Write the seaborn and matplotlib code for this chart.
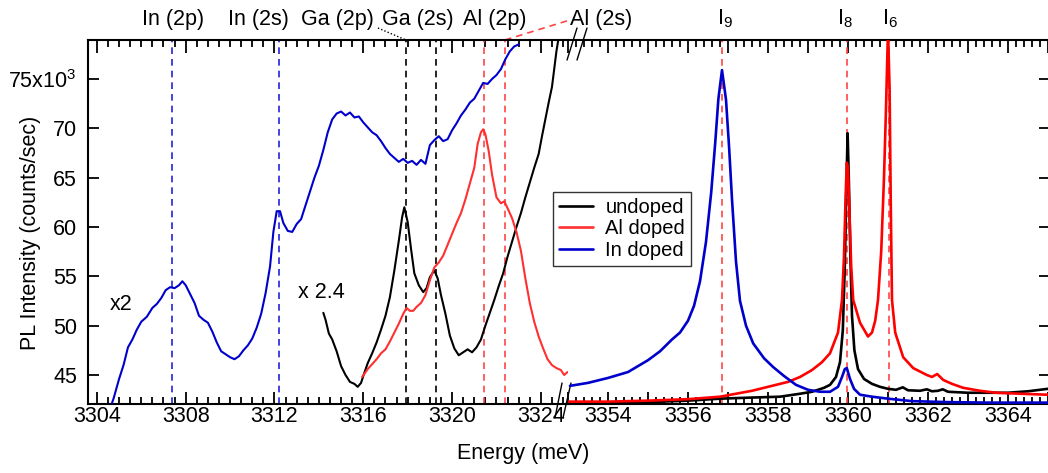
import matplotlib
matplotlib.use("Agg")
import matplotlib.pyplot as plt
import matplotlib.transforms as mtransforms
from matplotlib.ticker import MultipleLocator, FixedLocator, FuncFormatter
from matplotlib.lines import Line2D
import pandas as pd
import seaborn as sns

# ---------------- data (intensity in units of 10^3 counts/sec) ----------------
# Low-energy window (3303.6 - 3325.2 meV), scaled spectra
in_left_E = [3304.5, 3304.75, 3305.0, 3305.2, 3305.4, 3305.6, 3305.8, 3306.0, 3306.25, 3306.5,
             3306.7, 3306.9, 3307.1, 3307.3, 3307.5, 3307.7, 3307.85, 3308.0, 3308.2, 3308.4,
             3308.6, 3308.8, 3309.0, 3309.2, 3309.4, 3309.6, 3309.8, 3310.0, 3310.2, 3310.4,
             3310.6, 3310.8, 3311.0, 3311.2, 3311.4, 3311.6, 3311.8, 3311.95, 3312.1, 3312.25,
             3312.4, 3312.6, 3312.8, 3313.0, 3313.2, 3313.4, 3313.6, 3313.8, 3314.0, 3314.2,
             3314.4, 3314.6, 3314.8, 3315.0, 3315.2, 3315.4, 3315.6, 3315.8, 3316.0, 3316.2,
             3316.4, 3316.6, 3316.8, 3317.0, 3317.2, 3317.4, 3317.6, 3317.8, 3318.0, 3318.2,
             3318.4, 3318.6, 3318.8, 3319.0, 3319.2, 3319.4, 3319.6, 3319.8, 3320.0, 3320.2,
             3320.4, 3320.6, 3320.8, 3321.0, 3321.2, 3321.4, 3321.6, 3321.8, 3322.0, 3322.2,
             3322.4, 3322.6, 3322.8, 3323.0]
in_left_I = [41.0, 42.6, 44.6, 46.0, 47.8, 48.6, 49.6, 50.4, 50.9, 51.8,
             52.2, 52.8, 53.6, 53.9, 53.8, 54.1, 54.5, 54.1, 53.2, 52.3,
             51.0, 50.6, 50.3, 49.4, 48.3, 47.4, 47.1, 46.8, 46.6, 46.9,
             47.5, 48.0, 48.7, 49.8, 51.2, 53.3, 56.0, 59.5, 61.6, 61.6,
             60.4, 59.6, 59.5, 60.3, 60.8, 62.2, 63.6, 65.0, 66.2, 67.8,
             69.6, 70.9, 71.5, 71.7, 71.3, 71.6, 71.1, 71.2, 70.6, 70.1,
             69.6, 69.3, 68.7, 68.0, 67.4, 67.0, 66.6, 66.9, 66.5, 66.7,
             66.3, 66.8, 66.4, 68.3, 68.8, 69.2, 68.7, 68.9, 69.8, 70.5,
             71.3, 71.9, 72.6, 73.0, 73.8, 74.6, 74.5, 75.0, 75.4, 76.0,
             77.0, 77.8, 78.3, 78.5]

und_left_E = [3314.2, 3314.3, 3314.45, 3314.6, 3314.8, 3315.0, 3315.2, 3315.4, 3315.6, 3315.75,
              3315.9, 3316.0, 3316.2, 3316.4, 3316.6, 3316.8, 3317.0, 3317.2, 3317.4, 3317.6,
              3317.75, 3317.85, 3318.0, 3318.15, 3318.3, 3318.5, 3318.7, 3318.85, 3319.0, 3319.2,
              3319.35, 3319.5, 3319.7, 3319.9, 3320.1, 3320.3, 3320.5, 3320.7, 3320.9, 3321.1,
              3321.3, 3321.5, 3321.7, 3321.9, 3322.1, 3322.3, 3322.5, 3322.7, 3322.9, 3323.1,
              3323.3, 3323.5, 3323.7, 3323.9, 3324.05, 3324.2, 3324.35, 3324.5, 3324.6, 3324.7,
              3324.8, 3324.9]
und_left_I = [51.3, 50.6, 49.2, 48.6, 47.4, 45.9, 45.0, 44.3, 44.1, 43.8,
              44.2, 44.9, 46.2, 47.2, 48.3, 49.6, 51.0, 52.9, 55.6, 58.6,
              61.0, 62.0, 60.5, 57.8, 55.3, 54.1, 53.4, 53.8, 54.9, 55.6,
              54.8, 53.1, 51.2, 49.0, 47.7, 47.0, 47.3, 47.6, 47.3, 47.8,
              48.6, 50.0, 51.3, 52.6, 54.0, 55.3, 57.0, 58.5, 60.0, 61.4,
              63.0, 64.5, 66.0, 67.4, 69.2, 70.9, 72.6, 74.2, 76.0, 77.8,
              79.2, 80.5]

al_left_E = [3315.95, 3316.2, 3316.4, 3316.6, 3316.8, 3317.0, 3317.2, 3317.4, 3317.6, 3317.8,
             3317.95, 3318.1, 3318.25, 3318.4, 3318.6, 3318.8, 3319.0, 3319.2, 3319.4, 3319.6,
             3319.8, 3320.0, 3320.2, 3320.4, 3320.6, 3320.8, 3321.0, 3321.15, 3321.3, 3321.4,
             3321.5, 3321.65, 3321.8, 3322.0, 3322.2, 3322.35, 3322.5, 3322.7, 3322.9, 3323.1,
             3323.3, 3323.5, 3323.7, 3323.9, 3324.1, 3324.3, 3324.5, 3324.7, 3324.9, 3325.05,
             3325.2]
al_left_I = [44.8, 45.6, 46.1, 46.6, 47.2, 47.6, 48.4, 49.3, 50.2, 51.2,
             51.8, 51.5, 51.5, 51.9, 52.3, 53.1, 54.6, 55.9, 56.4, 57.1,
             58.2, 59.3, 60.4, 61.4, 62.8, 64.4, 66.0, 68.4, 69.6, 69.9,
             69.4, 67.7, 65.3, 63.0, 62.4, 62.6, 61.9, 60.9, 59.5, 57.6,
             54.8, 52.3, 50.4, 48.9, 47.7, 46.6, 46.0, 45.7, 45.5, 45.0,
             45.3]

# High-energy window (3353 - 3365 meV), bound-exciton lines
in_right_E = [3353.05, 3353.5, 3354.0, 3354.5, 3355.0, 3355.3, 3355.6, 3355.8, 3356.0, 3356.15,
              3356.3, 3356.45, 3356.58, 3356.68, 3356.76, 3356.85, 3356.95, 3357.03, 3357.1, 3357.2,
              3357.3, 3357.45, 3357.63, 3357.9, 3358.13, 3358.4, 3358.7, 3359.0, 3359.3, 3359.55,
              3359.75, 3359.85, 3359.92, 3359.97, 3360.05, 3360.15, 3360.3, 3360.6, 3361.0, 3361.6,
              3362.5, 3363.5, 3365.0]
in_right_I = [43.9, 44.2, 44.7, 45.3, 46.5, 47.4, 48.6, 49.3, 50.5, 52.0,
              54.5, 58.5, 63.5, 68.5, 73.0, 75.9, 72.9, 67.9, 62.8, 56.5,
              52.5, 50.0, 48.2, 46.7, 45.8, 44.9, 44.0, 43.5, 43.3, 43.3,
              43.8, 44.8, 45.6, 45.7, 44.6, 43.6, 43.0, 42.8, 42.6, 42.35,
              42.25, 42.2, 42.2]

und_right_E = [3353.0, 3354.0, 3355.0, 3356.0, 3356.8, 3357.5, 3358.3, 3358.8, 3359.1, 3359.4,
               3359.55, 3359.7, 3359.8, 3359.87, 3359.92, 3359.96, 3359.99, 3360.02, 3360.06, 3360.1,
               3360.16, 3360.25, 3360.4, 3360.6, 3360.8, 3361.0, 3361.2, 3361.37, 3361.5, 3361.8,
               3361.97, 3362.1, 3362.25, 3362.37, 3362.5, 3363.0, 3363.5, 3364.0, 3364.5, 3365.0]
und_right_I = [42.1, 42.15, 42.25, 42.4, 42.6, 42.7, 42.8, 43.1, 43.3, 43.7,
               44.0, 44.8, 46.3, 49.5, 56.0, 64.0, 69.5, 65.0, 57.0, 51.0,
               47.5, 45.6, 44.6, 44.1, 43.8, 43.6, 43.5, 43.75, 43.45, 43.4,
               43.55, 43.35, 43.4, 43.55, 43.3, 43.2, 43.2, 43.2, 43.35, 43.6]

al_right_E = [3353.0, 3354.0, 3355.0, 3356.0, 3356.8, 3357.6, 3358.0, 3358.5, 3358.8, 3359.1,
              3359.35, 3359.55, 3359.75, 3359.85, 3359.9, 3359.94, 3359.97, 3360.0, 3360.04, 3360.08,
              3360.13, 3360.3, 3360.5, 3360.6, 3360.68, 3360.75, 3360.83, 3360.9, 3360.95, 3361.0,
              3361.04, 3361.07, 3361.1, 3361.18, 3361.38, 3361.63, 3361.97, 3362.1, 3362.23, 3362.38,
              3362.6, 3362.88, 3363.3, 3363.7, 3364.3, 3365.0]
al_right_I = [42.3, 42.3, 42.4, 42.55, 42.8, 43.4, 43.8, 44.3, 44.8, 45.5,
              46.3, 47.2, 49.3, 52.6, 57.0, 63.0, 66.5, 66.0, 61.0, 56.0,
              52.6, 50.3, 48.9, 49.3, 50.5, 52.6, 57.5, 65.0, 72.0, 80.0,
              74.0, 62.0, 52.6, 49.3, 46.8, 45.7, 45.0, 44.8, 45.1, 44.5,
              44.1, 43.7, 43.4, 43.2, 43.1, 43.0]

samples = ["undoped", "Al doped", "In doped"]
sample_colors = ["#000000", "#FF3030", "#0000CC"]

# Reference energies for free-exciton/LO lines and bound-exciton labels
left_refs = ["In (2p)", "In (2s)", "Ga (2p)", "Ga (2s)", "Al (2p)", "Al (2s)"]
left_ref_E = [3307.37, 3312.2, 3317.92, 3319.28, 3321.45, 3322.38]
left_ref_colors = ["#2222DD", "#2222DD", "#000000", "#000000", "#FF4444", "#FF4444"]
left_label_E = [3307.43, 3311.26, 3314.82, 3318.46, 3321.93, 3326.71]

right_refs = ["I$_9$", "I$_8$", "I$_6$"]
right_ref_E = [3356.85, 3359.975, 3361.03]
right_label_E = [3356.93, 3359.93, 3361.05]

scale_labels = ["x2", "x 2.4"]
scale_label_E = [3305.09, 3314.1]
scale_label_I = [52.1, 53.4]

y_ticks = [45, 50, 55, 60, 65, 70, 75]
y_ticklabels = ["45", "50", "55", "60", "65", "70", "75x10$^3$"]

# ---------------- style ----------------
sns.set_theme(style="ticks")
plt.rcParams["font.family"] = ["Liberation Sans", "DejaVu Sans"]
plt.rcParams["mathtext.fontset"] = "custom"
plt.rcParams["mathtext.rm"] = "Liberation Sans"
plt.rcParams["mathtext.it"] = "Liberation Sans:italic"
plt.rcParams["mathtext.bf"] = "Liberation Sans:bold"
plt.rcParams["text.color"] = "black"
plt.rcParams["axes.labelcolor"] = "black"
plt.rcParams["xtick.color"] = "black"
plt.rcParams["ytick.color"] = "black"

FS = 15.5
W, H = 1048, 473
fig = plt.figure(figsize=(W / 100, H / 100), dpi=100)

ax_bottom = (473 - 404) / H
ax_height = 364 / H
axL = fig.add_axes([88 / W, ax_bottom, 480 / W, ax_height])
axR = fig.add_axes([568 / W, ax_bottom, 482 / W, ax_height])

ylim = (42.06, 78.95)


def frame(data):
    return pd.DataFrame(data)


left_df = pd.concat([
    frame({"energy": und_left_E, "intensity": und_left_I, "sample": samples[0]}),
    frame({"energy": al_left_E, "intensity": al_left_I, "sample": samples[1]}),
    frame({"energy": in_left_E, "intensity": in_left_I, "sample": samples[2]}),
], ignore_index=True)
right_df = pd.concat([
    frame({"energy": und_right_E, "intensity": und_right_I, "sample": samples[0]}),
    frame({"energy": al_right_E, "intensity": al_right_I, "sample": samples[1]}),
    frame({"energy": in_right_E, "intensity": in_right_I, "sample": samples[2]}),
], ignore_index=True)

palette_left = dict(zip(samples, sample_colors))
palette_right = dict(zip(samples, ["#000000", "#FF0000", "#0000CC"]))

# reference lines first so spectra draw on top
for E, c in zip(left_ref_E, left_ref_colors):
    axL.axvline(E, color=c, lw=1.2, ls=(0, (4, 3)), zorder=1)
for E in right_ref_E:
    axR.axvline(E, color="#FF4444", lw=1.2, ls=(0, (4, 3)), zorder=1)

sns.lineplot(data=left_df, x="energy", y="intensity", hue="sample", palette=palette_left,
             estimator=None, sort=False, lw=1.5, ax=axL, legend=False, zorder=3)
sns.lineplot(data=right_df, x="energy", y="intensity", hue="sample", palette=palette_right,
             estimator=None, sort=False, lw=1.9, ax=axR, legend=False, zorder=3)

axL.set_xlim(3303.6, 3303.6 + 480 / 22.2)
axR.set_xlim(3353.0, 3353.0 + 482 / 40.0)
for ax in (axL, axR):
    ax.set_ylim(*ylim)
    ax.set_xlabel("")
    ax.set_ylabel("")
    for s in ("top", "bottom", "left", "right"):
        ax.spines[s].set_linewidth(1.5)
        ax.spines[s].set_color("black")
    ax.tick_params(axis="x", which="both", direction="in", top=True, bottom=True,
                   width=1.3, color="black", labelsize=FS, pad=1.5, labelcolor="black")
    ax.tick_params(axis="x", which="major", length=9)
    ax.tick_params(axis="x", which="minor", length=5)

axL.spines["right"].set_visible(False)
axR.spines["left"].set_visible(False)

axL.xaxis.set_major_locator(MultipleLocator(4))
axL.xaxis.set_minor_locator(MultipleLocator(0.5))
axL.xaxis.set_major_formatter(FuncFormatter(lambda v, p: f"{v:.0f}"))

axR.xaxis.set_major_locator(MultipleLocator(1))
axR.xaxis.set_minor_locator(MultipleLocator(0.2))
axR.xaxis.set_major_formatter(FuncFormatter(lambda v, p: f"{v:.0f}" if round(v) % 2 == 0 else ""))

axL.yaxis.set_major_locator(FixedLocator(y_ticks))
axL.set_yticklabels(y_ticklabels)
axL.tick_params(axis="y", which="major", direction="in", left=True, right=False, length=8,
                width=1.3, labelsize=FS, pad=8, labelcolor="black")
axL.tick_params(axis="y", which="minor", left=False, right=False)

axR.yaxis.set_major_locator(FixedLocator(y_ticks))
axR.tick_params(axis="y", which="major", direction="in", left=False, right=True, length=8,
                width=1.3, labelleft=False, labelright=False)
axR.tick_params(axis="y", which="minor", left=False, right=False)

axL.set_ylabel("PL Intensity (counts/sec)", fontsize=FS, color="black")
axL.yaxis.set_label_coords(-0.098, 0.47)
fig.text(523 / W, 1 - 453 / H, "Energy (meV)", fontsize=FS, ha="center", va="center",
         color="black")

# top labels for reference energies
label_y = 1 + 21 / 364
transL = mtransforms.blended_transform_factory(axL.transData, axL.transAxes)
transR = mtransforms.blended_transform_factory(axR.transData, axR.transAxes)
for name, E in zip(left_refs, left_label_E):
    axL.text(E, label_y, name, transform=transL, ha="center", va="center",
             fontsize=FS, clip_on=False, color="black")
for name, E in zip(right_refs, right_label_E):
    axR.text(E, label_y, name, transform=transR, ha="center", va="center",
             fontsize=FS, clip_on=False, color="black")

# leader lines from labels to their reference lines
axL.plot([3316.66, left_ref_E[2]], [1 + 12 / 364, 1.0], transform=transL, color="black",
         lw=1.0, ls=(0, (1, 1.5)), clip_on=False)
axL.plot([left_ref_E[5], 3325.31], [1.0, 1 + 20 / 364], transform=transL, color="#FF4444",
         lw=1.2, ls=(0, (4, 3)), clip_on=False)

# scale factors of the low-energy spectra
for txt, E, I in zip(scale_labels, scale_label_E, scale_label_I):
    axL.text(E, I, txt, fontsize=FS, ha="center", va="center", color="black")

# axis-break marks
brk = dict(color="black", lw=1.0, clip_on=False, transform=axR.transAxes)
axR.plot([-0.002, 0.0187], [0.945, 1.033], **brk)
axR.plot([0.0187, 0.0394], [0.945, 1.033], **brk)
axR.plot([-0.027, -0.0124], [-0.038, 0.0577], **brk)
axR.plot([-0.0104, 0.0062], [-0.038, 0.0577], **brk)

# legend
handles = [Line2D([], [], color=c, lw=1.9) for c in sample_colors]
leg = fig.legend(handles, samples, loc="upper left", bbox_to_anchor=(553 / W, 1 - 192 / H),
                 frameon=True, fancybox=False, edgecolor="black", fontsize=14.5,
                 handlelength=1.7, handletextpad=0.6, borderpad=0.3, labelspacing=0.12,
                 borderaxespad=0.0)
leg.get_frame().set_linewidth(1.0)
for t in leg.get_texts():
    t.set_color("black")

fig.savefig("out.png", dpi=100)
